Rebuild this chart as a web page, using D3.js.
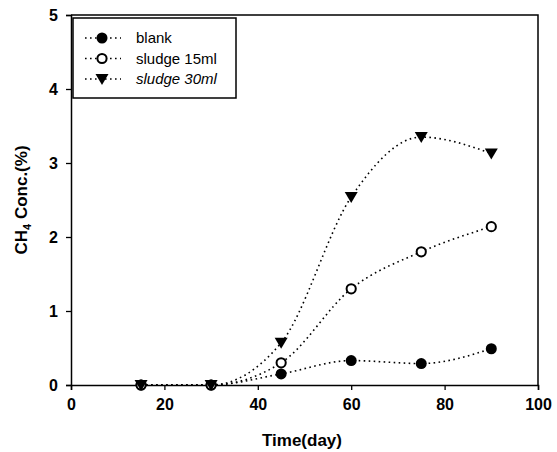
<!DOCTYPE html>
<html>
<head>
<meta charset="utf-8">
<script src="https://cdn.jsdelivr.net/npm/d3@7"></script>
<style>
  body { margin: 0; background: #fff; }
  svg { display: block; font-family: "Liberation Sans", Arial, sans-serif; }
</style>
</head>
<body>
<svg width="557" height="452"></svg>
<script>
  // data
  var days = [15, 30, 45, 60, 75, 90];
  var blank = [0, 0, 0.15, 0.33, 0.29, 0.49];
  var sludge15 = [0, 0, 0.3, 1.3, 1.8, 2.14];
  var sludge30 = [0, 0, 0.57, 2.54, 3.35, 3.13];
  var seriesNames = ["blank", "sludge 15ml", "sludge 30ml"];
  var xTicks = [0, 20, 40, 60, 80, 100];
  var yTicks = [0, 1, 2, 3, 4, 5];

  // plot box
  var plotL = 71, plotR = 538, plotT = 15, plotB = 385;

  var svg = d3.select("svg");
  var x = d3.scaleLinear().domain([0, 100]).range([plotL, plotR]);
  var y = d3.scaleLinear().domain([0, 5]).range([plotB, plotT]);

  // frame (top + right)
  svg.append("path")
    .attr("d", "M" + plotL + "," + plotT + "H" + plotR + "V" + plotB)
    .attr("fill", "none").attr("stroke", "#000").attr("stroke-width", 1.5);

  var xAxis = svg.append("g").attr("transform", "translate(0," + plotB + ")")
    .call(d3.axisBottom(x).tickValues(xTicks).tickFormat(d3.format("d")).tickSize(5).tickPadding(9));
  var yAxis = svg.append("g").attr("transform", "translate(" + plotL + ",0)")
    .call(d3.axisLeft(y).tickValues(yTicks).tickFormat(d3.format("d")).tickSize(5).tickPadding(8));

  [xAxis, yAxis].forEach(function(g){
    g.select(".domain").attr("stroke-width", 1.5);
    g.selectAll(".tick line").attr("stroke-width", 1.3);
    g.selectAll(".tick text")
      .style("font-family", "'Liberation Sans', Arial, sans-serif")
      .style("font-size", "16px").style("font-weight", "bold").attr("fill", "#000");
  });

  // axis titles
  svg.append("text").attr("x", 302).attr("y", 446)
    .attr("text-anchor", "middle").style("font-size", "17px").style("font-weight", "bold")
    .text("Time(day)");

  var yt = svg.append("text").attr("transform", "translate(27,200) rotate(-90)")
    .attr("text-anchor", "middle").style("font-size", "17px").style("font-weight", "bold");
  yt.append("tspan").text("CH");
  yt.append("tspan").attr("dy", 4).style("font-size", "11px").text("4");
  yt.append("tspan").attr("dy", -4).text(" Conc.(%)");

  var series = [blank, sludge15, sludge30];
  var line = d3.line()
    .x(function(d, i){ return x(days[i]); })
    .y(function(d){ return y(d); })
    .curve(d3.curveMonotoneX);

  function drawMarker(g, k, cx, cy){
    if (k === 0) {
      g.append("circle").attr("cx", cx).attr("cy", cy).attr("r", 5.5).attr("fill", "#000");
    } else if (k === 1) {
      g.append("circle").attr("cx", cx).attr("cy", cy).attr("r", 4.6)
        .attr("fill", "#fff").attr("stroke", "#000").attr("stroke-width", 2);
    } else {
      g.append("path")
        .attr("d", "M" + (cx - 6.5) + "," + (cy - 5) + "L" + (cx + 6.5) + "," + (cy - 5) + "L" + cx + "," + (cy + 6) + "Z")
        .attr("fill", "#000");
    }
  }

  series.forEach(function(vals, k){
    svg.append("path").datum(vals).attr("d", line)
      .attr("fill", "none").attr("stroke", "#000").attr("stroke-width", 1.6)
      .attr("stroke-dasharray", "1.6,3.4");
  });
  series.forEach(function(vals, k){
    var g = svg.append("g");
    vals.forEach(function(v, i){ drawMarker(g, k, x(days[i]), y(v)); });
  });

  // legend
  svg.append("rect").attr("x", 73).attr("y", 18).attr("width", 163).attr("height", 80)
    .attr("fill", "#fff").attr("stroke", "#000").attr("stroke-width", 1.5);
  seriesNames.forEach(function(name, k){
    var ly = 38 + k * 20.5;
    var g = svg.append("g");
    g.append("line").attr("x1", 85).attr("x2", 121).attr("y1", ly).attr("y2", ly)
      .attr("stroke", "#000").attr("stroke-width", 1.6).attr("stroke-dasharray", "1.6,3.4");
    drawMarker(g, k, 102, ly);
    g.append("text").attr("x", 136).attr("y", ly + 5)
      .style("font-size", "15px").style("font-style", k === 2 ? "italic" : "normal")
      .text(name);
  });
</script>
</body>
</html>
